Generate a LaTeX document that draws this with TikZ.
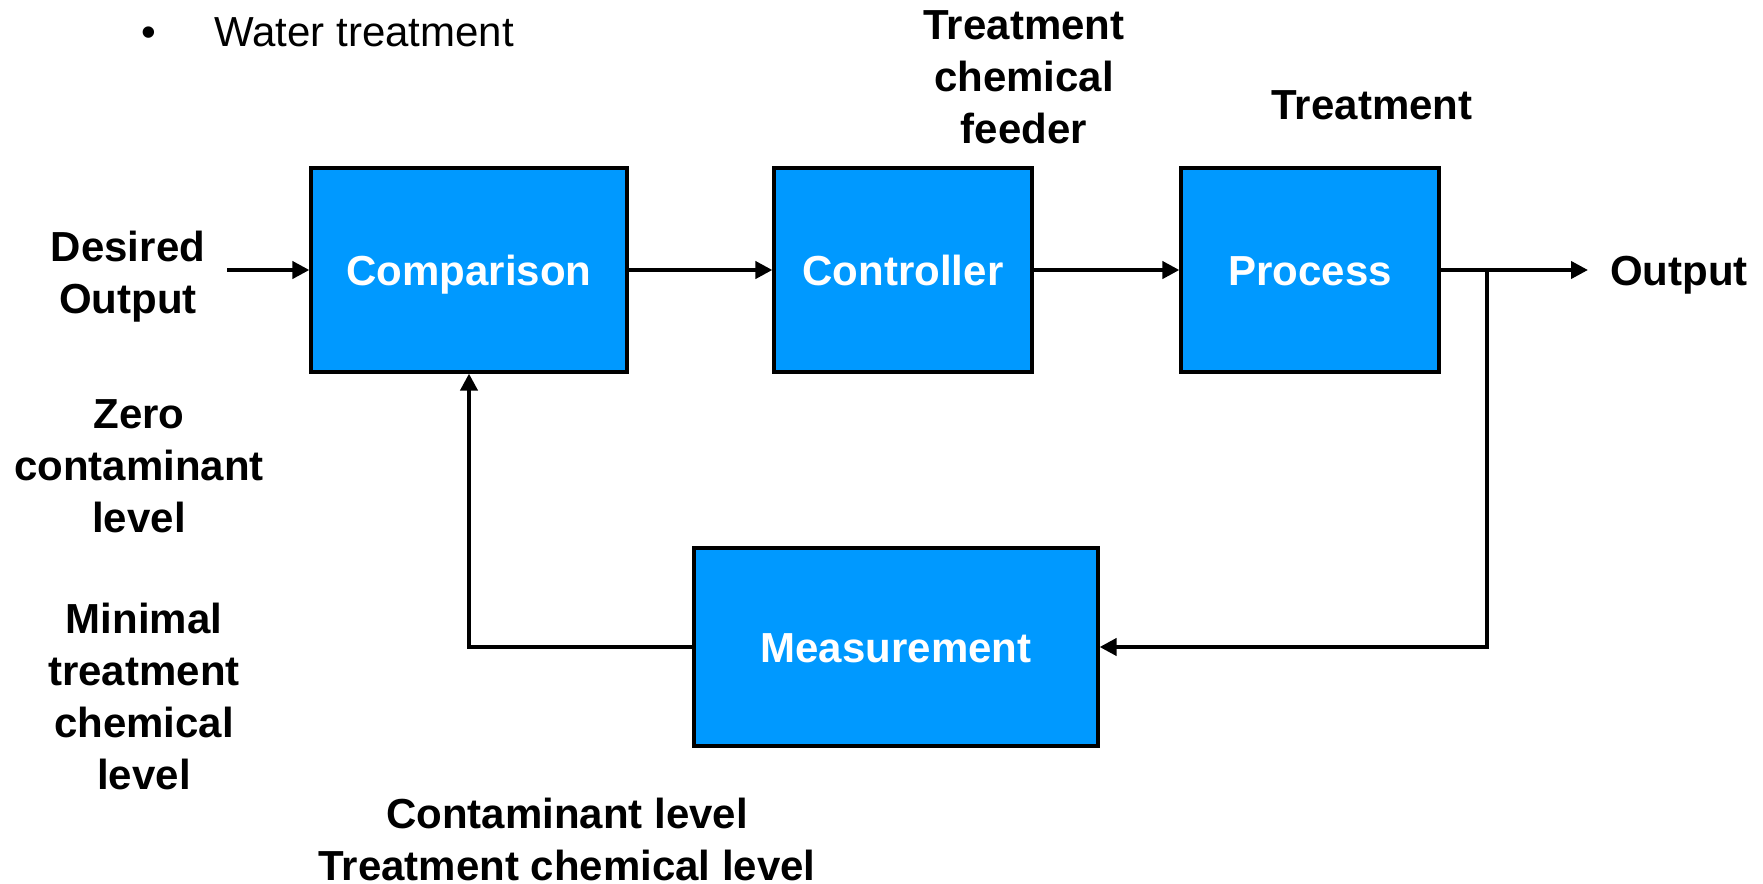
\documentclass[tikz,border=0pt]{standalone}
\usepackage{fontspec}
\setmainfont{Liberation Sans}
\usetikzlibrary{arrows.meta}
\definecolor{boxblue}{RGB}{0,153,255}
\tikzset{
  block/.style={draw=black, line width=1.6pt, fill=boxblue, text=white,
    font=\fontsize{21}{26}\selectfont\bfseries, inner sep=0pt,
    text height=15pt, text depth=0pt},
  lbl/.style={align=center, inner sep=0pt, font=\fontsize{21}{26}\selectfont\bfseries},
  flow/.style={line width=2pt, -{Triangle[length=8.5pt,width=8.5pt]}},
  wire/.style={line width=2pt}
}
\begin{document}
\begin{tikzpicture}[x=0.5pt,y=-0.5pt]
  \useasboundingbox (0,0) rectangle (1763,884);

  % heading
  \node[anchor=base, inner sep=0pt, font=\fontsize{21}{26}\selectfont] (bul) at (149,46) {\textbullet};
  \node[anchor=base west, inner sep=0pt, font=\fontsize{21}{26}\selectfont] (head) at (214,46) {Water treatment};

  % blocks
  \node[block, minimum width=158pt, minimum height=102pt] (cmp) at (469,270) {Comparison};
  \node[block, minimum width=129pt, minimum height=102pt] (ctl) at (903,270) {Controller};
  \node[block, minimum width=129pt, minimum height=102pt] (prc) at (1310,270) {Process};
  \node[block, minimum width=202pt, minimum height=99pt] (msr) at (896,647) {Measurement};

  % labels
  \node[lbl] (desired) at (128,277) {Desired\\Output};
  \node[lbl] (zero) at (139,466) {Zero\\contaminant\\level};
  \node[lbl] (minimal) at (144,696) {Minimal\\treatment\\chemical\\level};
  \node[lbl] (feeder) at (1024,77) {Treatment\\chemical\\feeder};
  \node[lbl] (treat) at (1372,105) {Treatment};
  \node[lbl] (out) at (1679,275) {Output};
  \node[lbl] (levels) at (567,839) {Contaminant level\\Treatment chemical level};

  % connection points
  \coordinate (din) at (227,270);
  \coordinate (split) at (1487,270);
  \coordinate (dout) at (1588,270);

  % forward path
  \draw[flow] (din) -- (cmp.west);
  \draw[flow] (cmp.east) -- (ctl.west);
  \draw[flow] (ctl.east) -- (prc.west);
  \draw[flow] (prc.east) -- (dout);

  % feedback path
  \draw[flow] (split) |- (msr.east);
  \draw[flow] (msr.west) -| (cmp.south);
\end{tikzpicture}
\end{document}
